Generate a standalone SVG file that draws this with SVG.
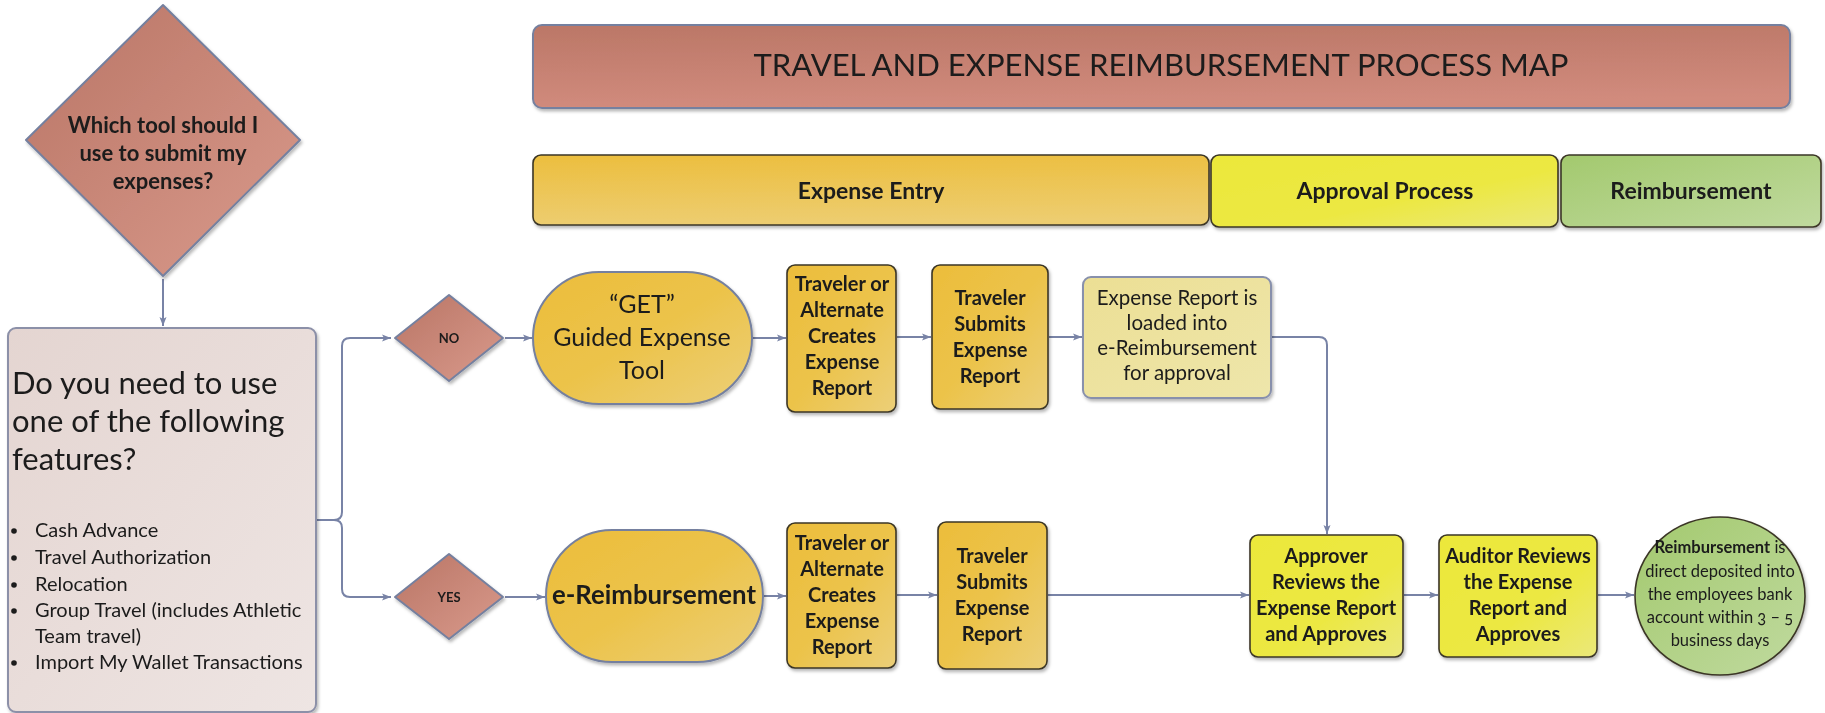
<svg xmlns="http://www.w3.org/2000/svg" width="1825" height="713" viewBox="0 0 1825 713">
  <defs>
    <linearGradient id="gSalmon" x1="0" y1="0" x2="1" y2="1">
      <stop offset="0" stop-color="#b97565"/>
      <stop offset="1" stop-color="#d99a8c"/>
    </linearGradient>
    <linearGradient id="gTitle" x1="0" y1="0" x2="0.15" y2="1">
      <stop offset="0" stop-color="#bb7767"/>
      <stop offset="1" stop-color="#d18b7d"/>
    </linearGradient>
    <linearGradient id="gQuestion" x1="0" y1="0" x2="1" y2="1">
      <stop offset="0" stop-color="#e4d5d1"/>
      <stop offset="1" stop-color="#eee5e3"/>
    </linearGradient>
    <linearGradient id="gOrange" x1="0" y1="0" x2="1" y2="1">
      <stop offset="0" stop-color="#ecbd3b"/>
      <stop offset="0.5" stop-color="#ecc34a"/>
      <stop offset="1" stop-color="#eccf78"/>
    </linearGradient>
    <linearGradient id="gOrangeBar" x1="0" y1="0" x2="0.1" y2="1">
      <stop offset="0" stop-color="#ecbe3e"/>
      <stop offset="1" stop-color="#edcd70"/>
    </linearGradient>
    <linearGradient id="gPale" x1="0" y1="0" x2="1" y2="1">
      <stop offset="0" stop-color="#ecdf94"/>
      <stop offset="1" stop-color="#eee6ab"/>
    </linearGradient>
    <linearGradient id="gYellow" x1="0" y1="0" x2="1" y2="1">
      <stop offset="0" stop-color="#ece83a"/>
      <stop offset="0.6" stop-color="#ece843"/>
      <stop offset="1" stop-color="#ebe87a"/>
    </linearGradient>
    <linearGradient id="gGreen" x1="0" y1="0" x2="1" y2="1">
      <stop offset="0" stop-color="#a3c96e"/>
      <stop offset="1" stop-color="#c0da9f"/>
    </linearGradient>
    <filter id="shadow" x="-10%" y="-10%" width="130%" height="130%">
      <feDropShadow dx="1.5" dy="2.5" stdDeviation="1.6" flood-color="#000" flood-opacity="0.28"/>
    </filter>
    <marker id="arrow" viewBox="0 0 9 8" refX="9" refY="4" markerWidth="9" markerHeight="8" markerUnits="userSpaceOnUse" orient="auto">
      <path d="M0,0.5 L9,4 L0,7.5 L2,4 z" fill="#7883a6"/>
    </marker>
    <style>
      text { font-family: Lato, "Liberation Sans", sans-serif; fill: #1b1b1b; }
      .c { text-anchor: middle; }
      .b { font-weight: bold; }
      .soft { stroke: #75809f; stroke-width: 2; }
      .dark { stroke: #3b3626; stroke-width: 1.6; }
      .conn { fill: none; stroke: #7883a6; stroke-width: 2; }
      .box { font-size: 20px; font-weight: bold; text-anchor: middle; }
      .hdr { font-size: 23px; font-weight: bold; text-anchor: middle; }
      .note { font-size: 16.5px; text-anchor: middle; }
    </style>
  </defs>

  <rect width="1825" height="713" fill="#ffffff"/>

  <!-- banner and phase headers -->
  <g id="title" filter="url(#shadow)">
    <rect x="533" y="25" width="1257" height="83" rx="9" fill="url(#gTitle)" class="soft"/>
    <text x="1161" y="76" class="c" font-size="30" textLength="815" lengthAdjust="spacingAndGlyphs">TRAVEL AND EXPENSE REIMBURSEMENT PROCESS MAP</text>
  </g>
  <g id="phase-entry" filter="url(#shadow)">
    <rect x="533" y="155" width="676" height="70" rx="8" fill="url(#gOrangeBar)" class="dark"/>
    <text x="871" y="199" class="hdr">Expense Entry</text>
  </g>
  <g id="phase-approval" filter="url(#shadow)">
    <rect x="1211" y="155" width="347" height="72" rx="8" fill="url(#gYellow)" class="dark"/>
    <text x="1385" y="199" class="hdr">Approval Process</text>
  </g>
  <g id="phase-reimbursement" filter="url(#shadow)">
    <rect x="1561" y="155" width="260" height="72" rx="8" fill="url(#gGreen)" class="dark"/>
    <text x="1691" y="199" class="hdr">Reimbursement</text>
  </g>

  <!-- connectors -->
  <g id="connectors">
    <path class="conn" d="M163,279 V326" marker-end="url(#arrow)"/>
    <path class="conn" d="M316,520 H334 Q342,520 342,512 V346 Q342,338 350,338 H391" marker-end="url(#arrow)"/>
    <path class="conn" d="M334,520 Q342,520 342,528 V589 Q342,597 350,597 H391" marker-end="url(#arrow)"/>
    <path class="conn" d="M505,338 H532" marker-end="url(#arrow)"/>
    <path class="conn" d="M505,597 H545" marker-end="url(#arrow)"/>
    <path class="conn" d="M753,338 H786" marker-end="url(#arrow)"/>
    <path class="conn" d="M897,337 H931" marker-end="url(#arrow)"/>
    <path class="conn" d="M1049,337 H1082" marker-end="url(#arrow)"/>
    <path class="conn" d="M1272,337 H1319 Q1327,337 1327,345 V534" marker-end="url(#arrow)"/>
    <path class="conn" d="M764,596 H786" marker-end="url(#arrow)"/>
    <path class="conn" d="M897,595 H937" marker-end="url(#arrow)"/>
    <path class="conn" d="M1048,595 H1249" marker-end="url(#arrow)"/>
    <path class="conn" d="M1404,595 H1438" marker-end="url(#arrow)"/>
    <path class="conn" d="M1598,595 H1634" marker-end="url(#arrow)"/>
  </g>

  <!-- decision: which tool -->
  <g id="which-tool" filter="url(#shadow)">
    <polygon points="163,5 300,140 163,276 26,140" fill="url(#gSalmon)" class="soft" stroke-linejoin="round" stroke-width="3"/>
    <text x="163" y="133" class="c b" font-size="22">Which tool should I</text>
    <text x="163" y="161" class="c b" font-size="22">use to submit my</text>
    <text x="163" y="189" class="c b" font-size="22">expenses?</text>
  </g>

  <!-- question box with feature list -->
  <g id="features-question" filter="url(#shadow)">
    <rect x="8" y="328" width="308" height="384" rx="8" fill="url(#gQuestion)" stroke="#8c90a8" stroke-width="2"/>
    <text x="12" y="394" font-size="31">Do you need to use</text>
    <text x="12" y="432" font-size="31">one of the following</text>
    <text x="12" y="470" font-size="31">features?</text>
    <g font-size="20">
      <circle cx="14" cy="531" r="2.8" fill="#1b1b1b"/>
      <text x="35" y="537">Cash Advance</text>
      <circle cx="14" cy="558" r="2.8" fill="#1b1b1b"/>
      <text x="35" y="564">Travel Authorization</text>
      <circle cx="14" cy="585" r="2.8" fill="#1b1b1b"/>
      <text x="35" y="591">Relocation</text>
      <circle cx="14" cy="611" r="2.8" fill="#1b1b1b"/>
      <text x="35" y="617">Group Travel (includes Athletic</text>
      <text x="35" y="643">Team travel)</text>
      <circle cx="14" cy="663" r="2.8" fill="#1b1b1b"/>
      <text x="35" y="669">Import My Wallet Transactions</text>
    </g>
  </g>

  <!-- NO / YES decisions -->
  <g id="decision-no" filter="url(#shadow)">
    <polygon points="449,295 503,338 449,381 395,338" fill="url(#gSalmon)" class="soft" stroke-linejoin="round" stroke-width="2.4"/>
    <text x="449" y="343" class="c b" font-size="13">NO</text>
  </g>
  <g id="decision-yes" filter="url(#shadow)">
    <polygon points="449,554 503,597 449,639 395,597" fill="url(#gSalmon)" class="soft" stroke-linejoin="round" stroke-width="2.4"/>
    <text x="449" y="602" class="c b" font-size="13">YES</text>
  </g>

  <!-- GET path -->
  <g id="get-tool" filter="url(#shadow)">
    <rect x="533" y="272" width="219" height="132" rx="66" fill="url(#gOrange)" class="soft"/>
    <text x="642" y="313" class="c" font-size="25">“GET”</text>
    <text x="642" y="346" class="c" font-size="25">Guided Expense</text>
    <text x="642" y="379" class="c" font-size="25">Tool</text>
  </g>
  <g id="get-create" filter="url(#shadow)">
    <rect x="787" y="265" width="109" height="147" rx="8" fill="url(#gOrange)" class="dark"/>
    <text class="box" x="842" y="291">Traveler or</text>
    <text class="box" x="842" y="317">Alternate</text>
    <text class="box" x="842" y="343">Creates</text>
    <text class="box" x="842" y="369">Expense</text>
    <text class="box" x="842" y="395">Report</text>
  </g>
  <g id="get-submit" filter="url(#shadow)">
    <rect x="932" y="265" width="116" height="144" rx="8" fill="url(#gOrange)" class="dark"/>
    <text class="box" x="990" y="305">Traveler</text>
    <text class="box" x="990" y="331">Submits</text>
    <text class="box" x="990" y="357">Expense</text>
    <text class="box" x="990" y="383">Report</text>
  </g>
  <g id="loaded-into-ereimb" filter="url(#shadow)">
    <rect x="1083" y="277" width="188" height="121" rx="8" fill="url(#gPale)" stroke="#8890ac" stroke-width="2"/>
    <text x="1177" y="305" class="c" font-size="20.5">Expense Report is</text>
    <text x="1177" y="330" class="c" font-size="20.5">loaded into</text>
    <text x="1177" y="355" class="c" font-size="20.5">e-Reimbursement</text>
    <text x="1177" y="380" class="c" font-size="20.5">for approval</text>
  </g>

  <!-- e-Reimbursement path -->
  <g id="ereimbursement" filter="url(#shadow)">
    <rect x="546" y="530" width="217" height="132" rx="66" fill="url(#gOrange)" class="soft"/>
    <text x="654" y="604" class="c b" font-size="26" textLength="204" lengthAdjust="spacingAndGlyphs">e-Reimbursement</text>
  </g>
  <g id="ereimb-create" filter="url(#shadow)">
    <rect x="787" y="523" width="109" height="145" rx="8" fill="url(#gOrange)" class="dark"/>
    <text class="box" x="842" y="550">Traveler or</text>
    <text class="box" x="842" y="576">Alternate</text>
    <text class="box" x="842" y="602">Creates</text>
    <text class="box" x="842" y="628">Expense</text>
    <text class="box" x="842" y="654">Report</text>
  </g>
  <g id="ereimb-submit" filter="url(#shadow)">
    <rect x="938" y="522" width="109" height="147" rx="8" fill="url(#gOrange)" class="dark"/>
    <text class="box" x="992" y="563">Traveler</text>
    <text class="box" x="992" y="589">Submits</text>
    <text class="box" x="992" y="615">Expense</text>
    <text class="box" x="992" y="641">Report</text>
  </g>

  <!-- approval and payment -->
  <g id="approver" filter="url(#shadow)">
    <rect x="1250" y="535" width="153" height="122" rx="8" fill="url(#gYellow)" class="dark"/>
    <text class="box" x="1326" y="563">Approver</text>
    <text class="box" x="1326" y="589">Reviews the</text>
    <text class="box" x="1326" y="615">Expense Report</text>
    <text class="box" x="1326" y="641">and Approves</text>
  </g>
  <g id="auditor" filter="url(#shadow)">
    <rect x="1439" y="535" width="158" height="122" rx="8" fill="url(#gYellow)" class="dark"/>
    <text class="box" x="1518" y="563">Auditor Reviews</text>
    <text class="box" x="1518" y="589">the Expense</text>
    <text class="box" x="1518" y="615">Report and</text>
    <text class="box" x="1518" y="641">Approves</text>
  </g>
  <g id="deposit" filter="url(#shadow)">
    <ellipse cx="1720" cy="596" rx="85" ry="79" fill="url(#gGreen)" class="dark"/>
    <text x="1720" y="553" class="note"><tspan font-weight="bold">Reimbursement</tspan> is</text>
    <text x="1720" y="577" class="note">direct deposited into</text>
    <text x="1720" y="600" class="note">the employees bank</text>
    <text x="1720" y="623" class="note">account within <tspan style="font-variant-numeric: oldstyle-nums">3 – 5</tspan></text>
    <text x="1720" y="646" class="note">business days</text>
  </g>
</svg>
